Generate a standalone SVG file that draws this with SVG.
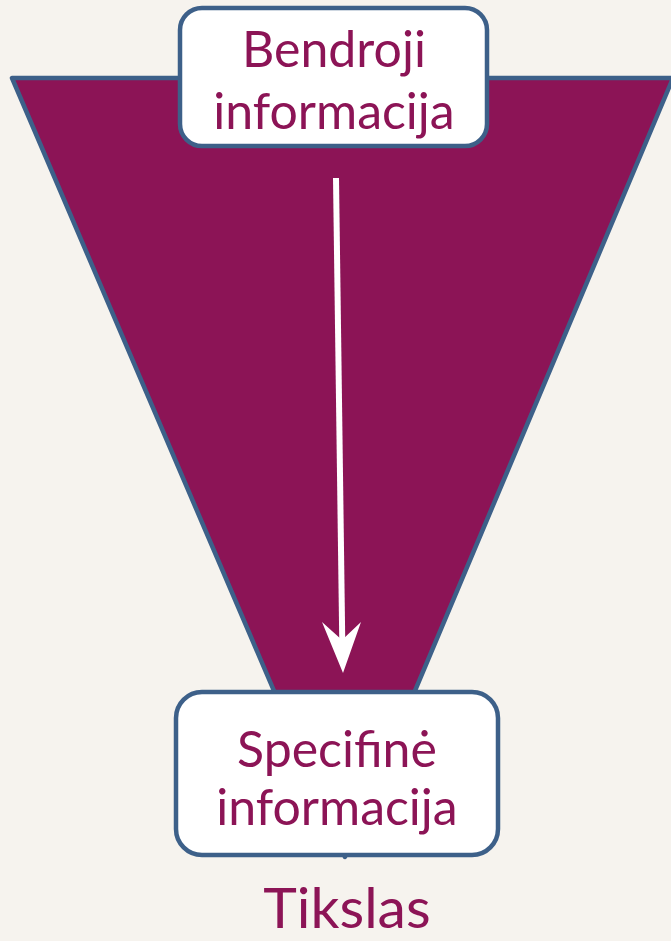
<svg xmlns="http://www.w3.org/2000/svg" width="671" height="941" viewBox="0 0 671 941">
  <defs>
    <style>
      .box { fill: #ffffff; stroke: #3d6089; stroke-width: 4.5; }
      .lbl { font-family: Lato, "Open Sans", "Liberation Sans", sans-serif; fill: #8c1456; text-anchor: middle; }
    </style>
  </defs>

  <!-- paper background -->
  <rect width="671" height="941" fill="#f6f3ee"/>

  <!-- funnel -->
  <polygon points="12,78 673,78 345,857" fill="#8c1456" stroke="#3d6089" stroke-width="4.5" stroke-linejoin="round"/>

  <!-- connector: general to specific -->
  <g id="connectors">
    <path d="M336,178 L342.5,660" stroke="#ffffff" stroke-width="6" fill="none"/>
    <path d="M322,622 L343,673 L361,622 L342,640 Z" fill="#ffffff"/>
  </g>

  <g id="node-general">
    <rect class="box" x="180" y="8" width="307" height="138" rx="22"/>
    <text class="lbl" x="334" y="67" font-size="50">Bendroji</text>
    <text class="lbl" x="334" y="129" font-size="50">informacija</text>
  </g>

  <g id="node-specific">
    <rect class="box" x="176" y="692" width="322" height="163" rx="26"/>
    <text class="lbl" x="337" y="767" font-size="50">Specifinė</text>
    <text class="lbl" x="337" y="825" font-size="50">informacija</text>
  </g>

  <g id="goal">
    <text class="lbl" x="347" y="928" font-size="57">Tikslas</text>
  </g>
</svg>
